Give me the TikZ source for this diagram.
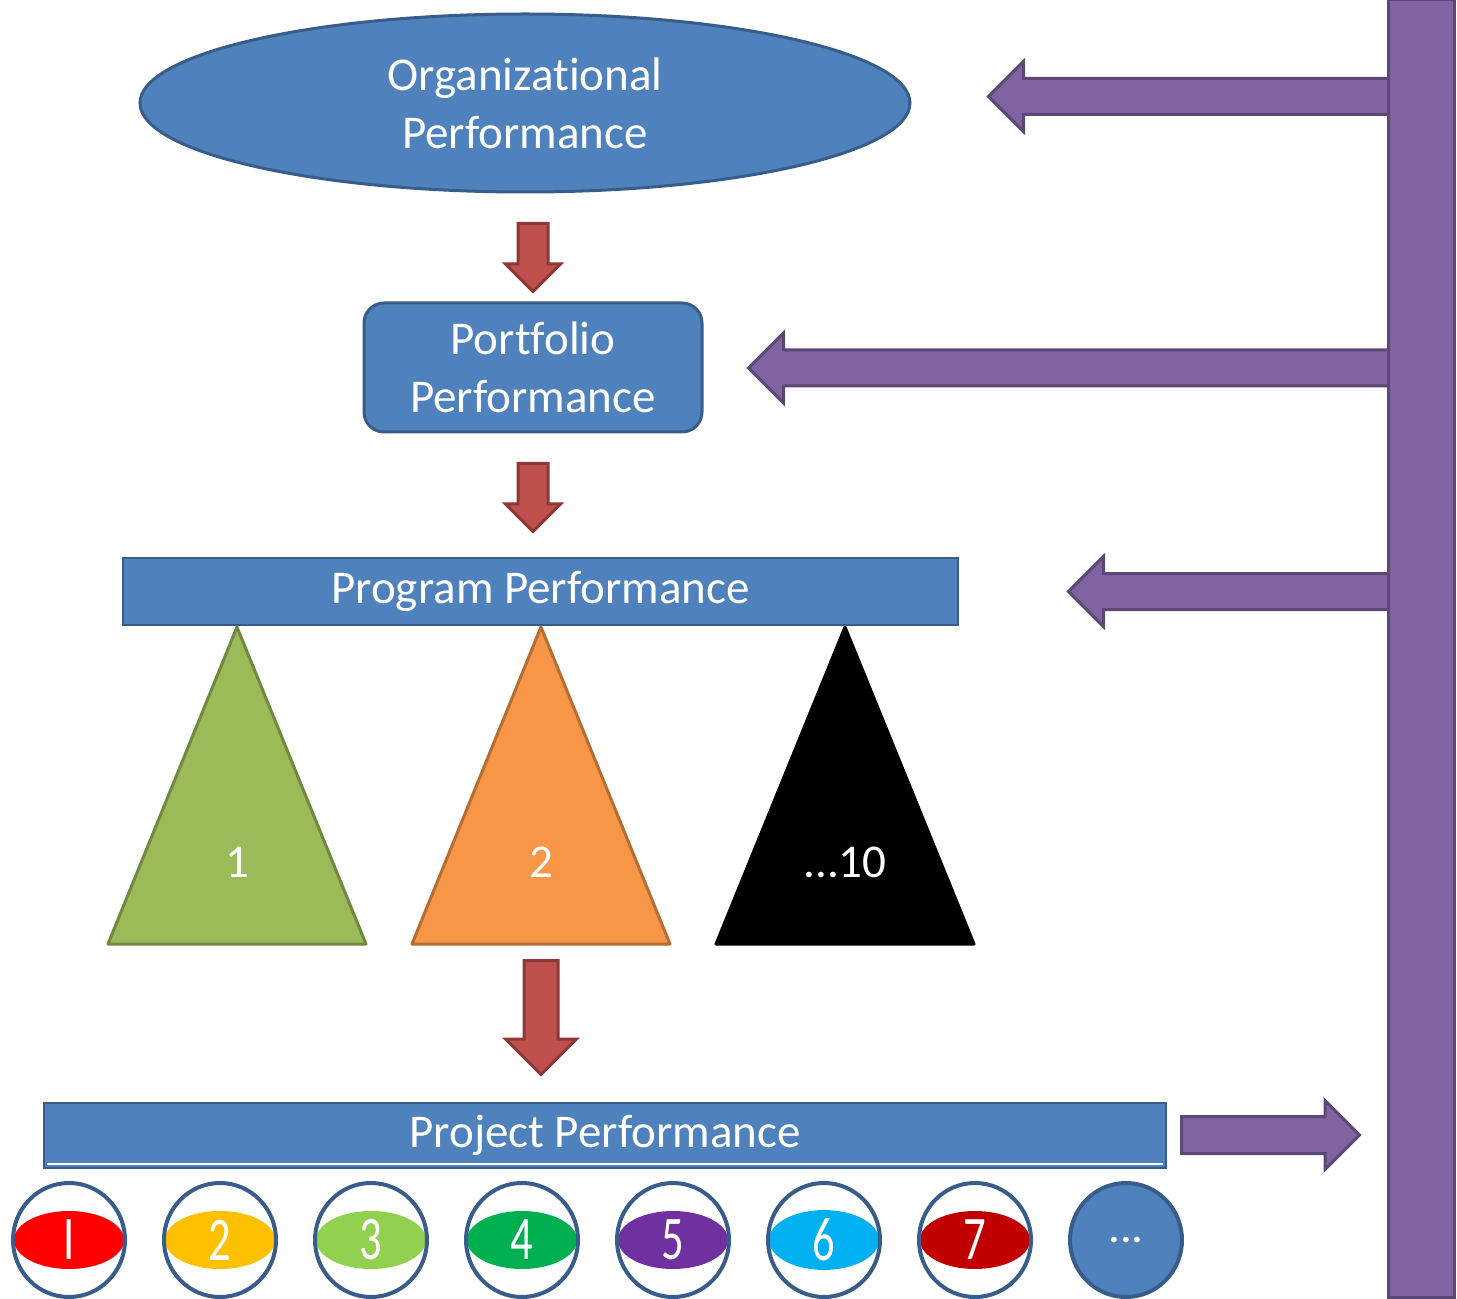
\documentclass[tikz,border=0pt]{standalone}
\usepackage{fontspec}
\setmainfont{Carlito}[Ligatures=NoCommon]
\usepackage{graphicx}
\usetikzlibrary{shapes.geometric,shapes.arrows}
\definecolor{boxblue}{HTML}{4F81BD}
\definecolor{boxline}{HTML}{385D8A}
\definecolor{arrred}{HTML}{C0504D}
\definecolor{arrredline}{HTML}{8C3836}
\definecolor{fbpurple}{HTML}{8064A2}
\definecolor{fbline}{HTML}{5C4776}
\definecolor{trigreen}{HTML}{9BBB59}
\definecolor{trigreenline}{HTML}{71893F}
\definecolor{triorange}{HTML}{F79646}
\definecolor{triorangeline}{HTML}{B66D31}
\tikzset{
  blueshape/.style={fill=boxblue,draw=boxline,line width=1.5pt,text=white,
    font=\fontsize{23.5}{29}\selectfont,align=center,inner sep=0},
  downarrow/.style={single arrow,fill=arrred,draw=arrredline,line width=1.5pt,anchor=tail,
    inner xsep=0,inner ysep=6.75pt,rotate=-90,single arrow head extend=6.25pt,minimum height=34pt},
  fbarrow/.style={single arrow,fill=fbpurple,draw=fbline,line width=1.5pt,anchor=tail,
    inner xsep=0,inner ysep=8.25pt,single arrow head extend=8.5pt},
  trilabel/.style={text=white,font=\fontsize{23.5}{29}\selectfont},
  projring/.style={ellipse,draw=boxline,line width=2pt,minimum width=56pt,minimum height=57pt,inner sep=0},
  projcore/.style={ellipse,minimum width=55pt,minimum height=29pt,inner sep=0,text=white,
    font=\fontsize{31}{31}\selectfont}
}
\begin{document}
\begin{tikzpicture}[x=.5pt,y=-.5pt]
  \useasboundingbox (0,0) rectangle (1457,1299);
  % feedback arrows and bar
  \node[fbarrow,rotate=180,minimum height=200pt] (fbOrg) at (1390,96.5) {};
  \node[fbarrow,rotate=180,minimum height=320pt] (fbPort) at (1390,368) {};
  \node[fbarrow,rotate=180,minimum height=160pt] (fbProg) at (1390,591.5) {};
  \node[fbarrow,minimum height=89pt,inner ysep=8.5pt,single arrow head extend=8pt] (fbProj) at (1180,1135) {};
  \node[fill=fbpurple,draw=fbline,line width=1.5pt,minimum width=33pt,minimum height=648.5pt,inner sep=0] (fbBar) at (1421,648.5) {};
  % levels
  \node[blueshape,ellipse,minimum width=385pt,minimum height=89pt] (org) at (525,103) {Organizational\\Performance};
  \node[downarrow] (orgDown) at (533,222) {};
  \node[blueshape,rounded corners=10pt,minimum width=169pt,minimum height=64.5pt] (port) at (533,367.5) {Portfolio\\Performance};
  \node[downarrow] (portDown) at (533,462) {};
  % programs
  \draw[fill=trigreen,draw=trigreenline,line width=1.5pt,line join=round] (237,627) -- (366,944) -- (108,944) -- cycle;
  \draw[fill=triorange,draw=triorangeline,line width=1.5pt,line join=round] (541,627) -- (670,944) -- (412,944) -- cycle;
  \draw[fill=black,line width=1.5pt,line join=round] (845,627) -- (974,944) -- (716,944) -- cycle;
  \node[trilabel] (prog1) at (237,862) {1};
  \node[trilabel] (prog2) at (541,862) {2};
  \node[trilabel] (prog10) at (845,862) {...10};
  \node[blueshape,line width=1pt,minimum width=417.5pt,minimum height=33.5pt] (prog) at (540.5,591.5) {Program Performance};
  \node[downarrow,inner ysep=7.75pt,single arrow head extend=9.25pt,minimum height=57pt] (progDown) at (541,959) {};
  % projects
  \node[blueshape,line width=1pt,minimum width=561pt,minimum height=32.5pt] (proj) at (605,1135.5) {Project Performance};
  \draw[white,line width=1pt] ([shift={(4,-5)}]proj.south west) -- ([shift={(-4,-5)}]proj.south east);
  \foreach \n/\c [count=\i] in {I/red,2/{rgb,255:red,255;green,192;blue,0},3/{rgb,255:red,146;green,208;blue,80},
      4/{rgb,255:red,0;green,176;blue,80},5/{rgb,255:red,112;green,48;blue,160},
      6/{rgb,255:red,0;green,176;blue,240},7/{rgb,255:red,192;green,0;blue,0}}{
    \node[projcore,fill=\c] (core\i) at (69+151*\i-151,1240) {\scalebox{.72}[1]{\n}};
    \node[projring] (ring\i) at (core\i) {};
  }
  \node[projring,fill=boxblue,text=white,font=\fontsize{23.5}{29}\selectfont] (ring8) at (1126,1240) {...};
\end{tikzpicture}
\end{document}
